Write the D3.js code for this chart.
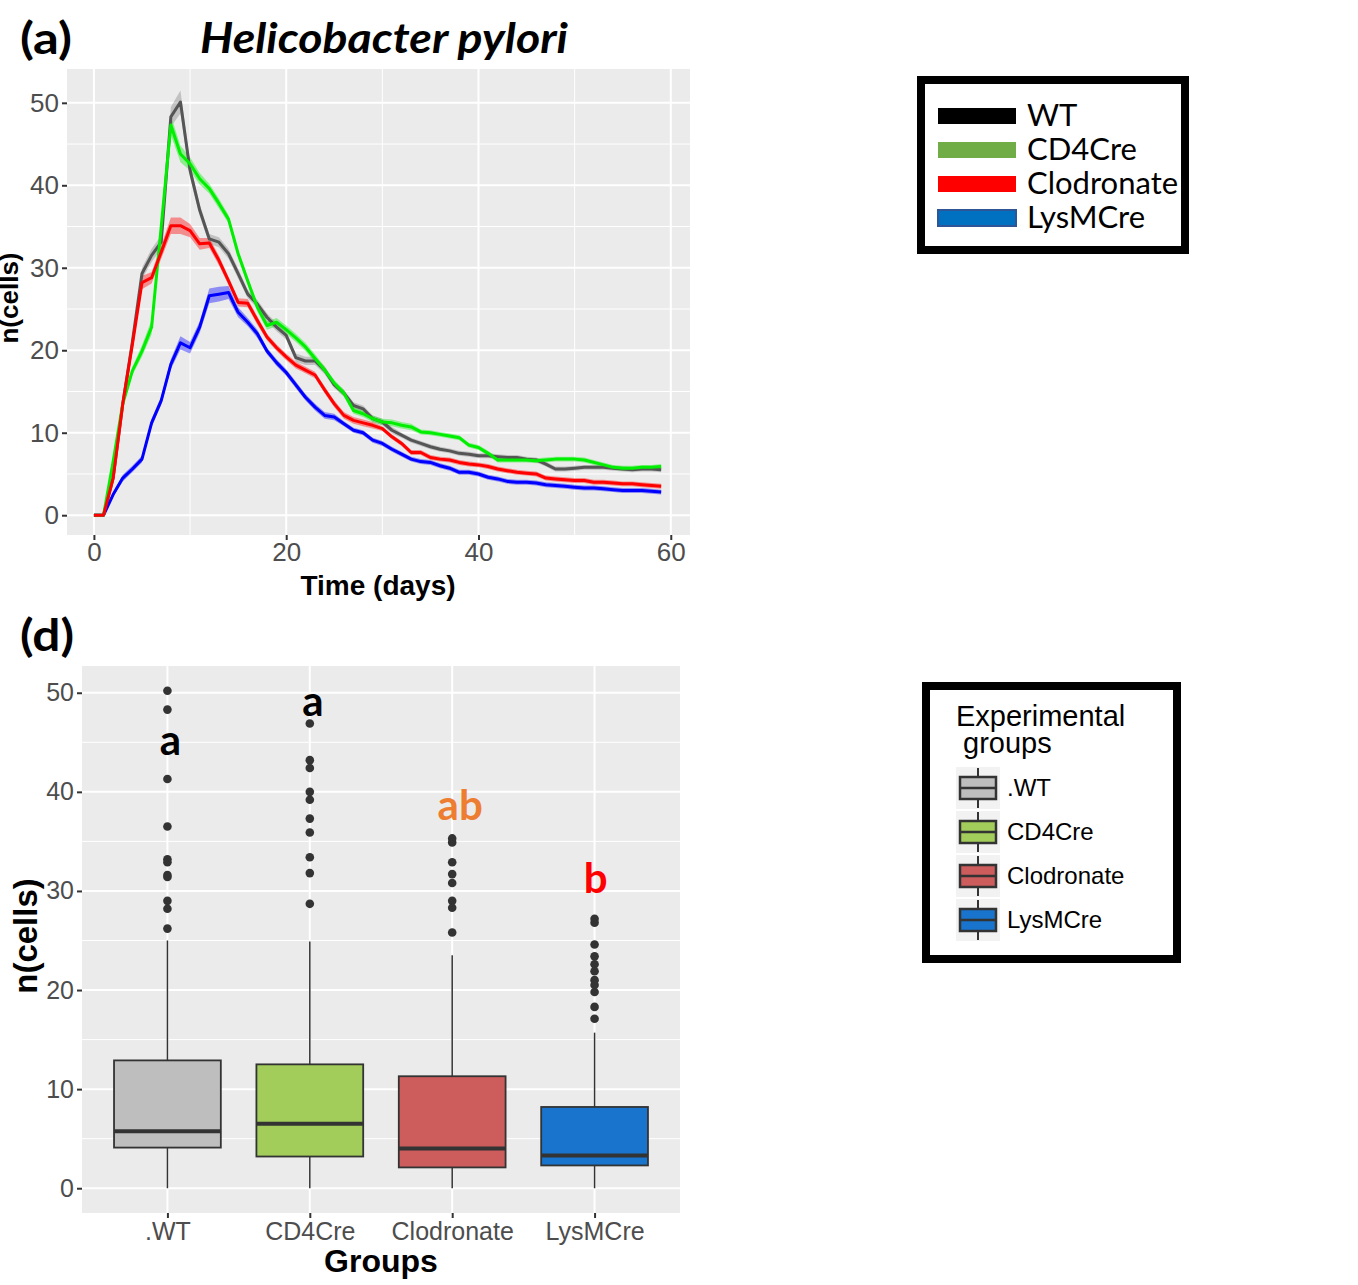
<!DOCTYPE html>
<html>
<head>
<meta charset="utf-8">
<script src="https://cdn.jsdelivr.net/npm/d3@7"></script>
<style>
  body { margin: 0; background: #fff; }
  svg { display: block; }
</style>
</head>
<body>
<div id="chart"></div>
<script>
var W = 1358, H = 1285;

// ---------- panel (a) data: mean n(cells) per day ----------
var days = [0,1,2,3,4,5,6,7,8,9,10,11,12,13,14,15,16,17,18,19,
  20,21,22,23,24,25,26,27,28,29,30,31,32,33,34,35,36,37,38,39,
  40,41,42,43,44,45,46,47,48,49,50,51,52,53,54,55,56,57,58,59];

var wtCells = [0,0,4.5,13.5,21,29.3,31.5,33.1,48.3,50.1,
  41.8,37,33.5,33.1,31.7,29.3,26.8,25.6,24,22.8,
  21.8,19.1,18.7,18.7,17.6,15.8,14.8,13.3,12.9,11.7,
  11.3,10.3,9.7,9.1,8.7,8.3,8.0,7.8,7.5,7.4,
  7.2,7.2,7.1,7.0,7.0,6.8,6.7,6.2,5.6,5.6,
  5.7,5.8,5.8,5.8,5.7,5.6,5.5,5.6,5.6,5.5];
var cd4Cells = [0,0,6.5,13.5,17.5,19.9,22.8,35,47.3,43.8,
  42.6,40.8,39.6,37.8,35.9,31.7,28.4,25.2,23,23.4,
  22.5,21.5,20.4,19,17.6,16,14.8,12.7,12.3,11.7,
  11.3,11.2,10.9,10.7,10.1,10,9.8,9.6,9.4,8.5,
  8.2,7.5,6.7,6.7,6.7,6.7,6.6,6.7,6.8,6.8,
  6.8,6.7,6.4,6.1,5.8,5.7,5.7,5.8,5.8,5.9];
var clodCells = [0,0,4.5,13.5,20.7,28.2,28.8,31.9,35.1,35.1,
  34.5,32.9,33,30.9,28.4,25.8,25.7,23.6,21.6,20.3,
  19.2,18.2,17.6,17,15.2,13.5,12.1,11.5,11.2,10.9,
  10.5,9.5,8.7,7.6,7.6,7.0,6.8,6.7,6.4,6.2,
  6.1,5.9,5.6,5.4,5.2,5.1,5.0,4.5,4.4,4.3,
  4.2,4.2,4.0,4.0,3.9,3.8,3.8,3.7,3.6,3.5];
var lysmCells = [0,0,2.5,4.5,5.6,6.8,11.2,13.9,18.3,20.9,
  20.3,22.8,26.6,26.8,27,24.6,23.4,22,19.9,18.5,
  17.3,15.8,14.3,13.1,12.1,11.9,11.1,10.3,10,9.1,
  8.7,8.0,7.4,6.8,6.5,6.4,6.0,5.7,5.2,5.2,
  5.0,4.6,4.4,4.1,4.0,4.0,3.9,3.7,3.6,3.5,
  3.4,3.3,3.3,3.2,3.1,3.0,3.0,3.0,2.9,2.8];

// half-width of the shaded band around each mean
var wtSe = [0,0,0.3,0.4,0.5,0.7,0.8,0.8,1.2,1.4,
  0.9,0.7,0.6,0.6,0.6,0.6,0.5,0.5,0.5,0.5,
  0.5,0.5,0.5,0.5,0.5,0.4,0.4,0.4,0.4,0.4,
  0.4,0.4,0.3,0.3,0.3,0.3,0.3,0.3,0.3,0.3,
  0.3,0.3,0.3,0.3,0.3,0.3,0.3,0.3,0.3,0.3,
  0.3,0.3,0.3,0.3,0.3,0.3,0.3,0.3,0.3,0.3];
var cd4Se = [0,0,0.3,0.4,0.5,0.7,0.9,0.8,1.2,1.0,
  0.8,0.7,0.6,0.6,0.5,0.5,0.5,0.5,0.5,0.5,
  0.5,0.5,0.5,0.5,0.4,0.4,0.4,0.4,0.4,0.4,
  0.4,0.4,0.4,0.4,0.3,0.3,0.3,0.3,0.3,0.3,
  0.3,0.3,0.3,0.3,0.3,0.3,0.3,0.3,0.3,0.3,
  0.3,0.3,0.3,0.3,0.3,0.3,0.3,0.3,0.3,0.3];
var clodSe = [0,0,0.3,0.4,0.6,0.8,0.7,0.8,1.0,1.0,
  0.8,0.7,0.6,0.6,0.5,0.5,0.5,0.5,0.4,0.4,
  0.4,0.4,0.4,0.4,0.4,0.4,0.4,0.4,0.4,0.4,
  0.3,0.3,0.3,0.3,0.3,0.3,0.3,0.3,0.3,0.3,
  0.3,0.3,0.3,0.3,0.3,0.3,0.3,0.3,0.3,0.3,
  0.3,0.3,0.3,0.3,0.3,0.3,0.3,0.3,0.3,0.3];
var lysmSe = [0,0,0.3,0.4,0.4,0.4,0.5,0.5,0.6,0.8,
  0.7,0.7,0.9,0.9,0.8,0.6,0.5,0.5,0.4,0.4,
  0.4,0.4,0.4,0.4,0.4,0.4,0.3,0.3,0.3,0.3,
  0.3,0.3,0.3,0.3,0.3,0.3,0.3,0.3,0.3,0.3,
  0.3,0.3,0.3,0.3,0.3,0.3,0.3,0.3,0.3,0.3,
  0.3,0.3,0.3,0.3,0.3,0.3,0.3,0.3,0.3,0.3];

var xTicksA = [0, 20, 40, 60];
var xMinorA = [10, 30, 50];
var yTicksA = [0, 10, 20, 30, 40, 50];
var yMinorA = [5, 15, 25, 35, 45];

var legendNames = ["WT", "CD4Cre", "Clodronate", "LysMCre"];

// ---------- panel (d) data: boxplot summaries ----------
var groups = [".WT", "CD4Cre", "Clodronate", "LysMCre"];
var lowerWhisker = [0, 0, 0, 0];
var q1 = [4.1, 3.2, 2.1, 2.3];
var medians = [5.75, 6.5, 4.0, 3.3];
var q3 = [12.9, 12.5, 11.3, 8.2];
var upperWhisker = [25.0, 24.9, 23.5, 15.7];
var outliers = [
  [50.2, 48.3, 41.3, 36.5, 33.2, 32.9, 31.6, 31.4, 29.0, 28.2, 26.2],
  [46.9, 43.2, 42.4, 40.0, 39.2, 37.3, 35.9, 33.4, 31.8, 28.7],
  [35.3, 34.9, 32.9, 31.7, 30.8, 29.0, 28.3, 25.8],
  [27.2, 26.8, 24.6, 23.4, 22.6, 21.9, 21.0, 20.5, 19.8, 18.3, 17.1]
];
var sigLetters = ["a", "a", "ab", "b"];
var sigLevel = [43.7, 47.7, 37.2, 29.8];

var yTicksB = [0, 10, 20, 30, 40, 50];
var yMinorB = [5, 15, 25, 35, 45];

// ---------- styles ----------
var ggFont = "'Liberation Sans', Arial, sans-serif";
var officeFont = "Lato, 'Open Sans', sans-serif";
var lineColors = { WT: "#555555", CD4Cre: "#00ee00", Clodronate: "#ff0000", LysMCre: "#0000ff" };
var keyColors = { WT: "#000000", CD4Cre: "#70ad47", Clodronate: "#ff0000", LysMCre: "#0070c0" };
var boxColors = ["#bebebe", "#a2cd5a", "#cd5c5c", "#1874cd"];
var letterColors = ["#000000", "#000000", "#ed7d31", "#ff0000"];
var letterShift = [3, 3, 8, 1];

var svg = d3.select("#chart").append("svg")
  .attr("width", W)
  .attr("height", H);

// ================= panel (a) =================
var xA = d3.scaleLinear().domain([-2.8, 62]).range([67, 690]);
var yA = d3.scaleLinear().domain([-2.4, 54.1]).range([535, 69]);

var pA = svg.append("g");
pA.append("rect")
  .attr("x", 67).attr("y", 69)
  .attr("width", 623).attr("height", 466)
  .attr("fill", "#ebebeb");

// grid
pA.selectAll(".minx").data(xMinorA).enter().append("line")
  .attr("x1", d => xA(d)).attr("x2", d => xA(d))
  .attr("y1", 69).attr("y2", 535)
  .attr("stroke", "#fff").attr("stroke-width", 1);
pA.selectAll(".miny").data(yMinorA).enter().append("line")
  .attr("x1", 67).attr("x2", 690)
  .attr("y1", d => yA(d)).attr("y2", d => yA(d))
  .attr("stroke", "#fff").attr("stroke-width", 1);
pA.selectAll(".majx").data(xTicksA).enter().append("line")
  .attr("x1", d => xA(d)).attr("x2", d => xA(d))
  .attr("y1", 69).attr("y2", 535)
  .attr("stroke", "#fff").attr("stroke-width", 2);
pA.selectAll(".majy").data(yTicksA).enter().append("line")
  .attr("x1", 67).attr("x2", 690)
  .attr("y1", d => yA(d)).attr("y2", d => yA(d))
  .attr("stroke", "#fff").attr("stroke-width", 2);

svg.append("clipPath").attr("id", "clipA")
  .append("rect").attr("x", 67).attr("y", 69).attr("width", 623).attr("height", 466);

var seriesA = [
  { name: "WT", v: wtCells, se: wtSe },
  { name: "LysMCre", v: lysmCells, se: lysmSe },
  { name: "CD4Cre", v: cd4Cells, se: cd4Se },
  { name: "Clodronate", v: clodCells, se: clodSe }
];

var band = d3.area()
  .x((d, i) => xA(days[i]))
  .y0(d => yA(d[0] - d[1]))
  .y1(d => yA(d[0] + d[1]));
var line = d3.line()
  .x((d, i) => xA(days[i]))
  .y(d => yA(d));

var gLines = pA.append("g").attr("clip-path", "url(#clipA)");
gLines.selectAll(".band").data(seriesA).enter().append("path")
  .attr("d", s => band(s.v.map((v, i) => [v, s.se[i]])))
  .attr("fill", s => lineColors[s.name])
  .attr("fill-opacity", s => s.name === "WT" ? 0.28 : 0.4);
gLines.selectAll(".line").data(seriesA).enter().append("path")
  .attr("d", s => line(s.v))
  .attr("fill", "none")
  .attr("stroke", s => lineColors[s.name])
  .attr("stroke-width", 3)
  .attr("stroke-linejoin", "round");

// axes
var axA_y = pA.append("g").attr("transform", "translate(67,0)")
  .call(d3.axisLeft(yA).tickValues(yTicksA).tickSize(5).tickPadding(3));
var axA_x = pA.append("g").attr("transform", "translate(0,535)")
  .call(d3.axisBottom(xA).tickValues(xTicksA).tickSize(5).tickPadding(3));
[axA_y, axA_x].forEach(function (ax) {
  ax.select(".domain").remove();
  ax.selectAll("line").attr("stroke", "#333").attr("stroke-width", 2);
  ax.selectAll("text").attr("fill", "#4d4d4d")
    .style("font-family", ggFont).style("font-size", "26px");
});

svg.append("text").text("Time (days)")
  .attr("x", 378).attr("y", 595)
  .attr("text-anchor", "middle")
  .style("font-family", ggFont).style("font-size", "28px").style("font-weight", "bold");
svg.append("text").text("n(cells)")
  .attr("transform", "translate(18,298) rotate(-90)")
  .attr("text-anchor", "middle")
  .style("font-family", ggFont).style("font-size", "26px").style("font-weight", "bold");

svg.append("text").text("(a)")
  .attr("x", 20).attr("y", 54)
  .attr("textLength", 52).attr("lengthAdjust", "spacingAndGlyphs")
  .style("font-family", officeFont).style("font-size", "43px").style("font-weight", "bold");
svg.append("text").text("Helicobacter pylori")
  .attr("x", 200).attr("y", 53)
  .attr("textLength", 368).attr("lengthAdjust", "spacingAndGlyphs")
  .style("font-family", officeFont).style("font-size", "42px")
  .style("font-weight", "bold").style("font-style", "italic");

// legend for (a)
var legA = svg.append("g");
legA.append("rect")
  .attr("x", 921).attr("y", 80).attr("width", 264).attr("height", 170)
  .attr("fill", "#fff").attr("stroke", "#000").attr("stroke-width", 8);
var legAy = d3.scalePoint().domain(legendNames).range([116, 218]);
legA.selectAll(".key").data(legendNames).enter().append("rect")
  .attr("x", 938).attr("width", 78)
  .attr("y", d => legAy(d) - 8).attr("height", 16)
  .attr("fill", d => keyColors[d])
  .attr("stroke", d => d === "LysMCre" ? "#2f5597" : "none")
  .attr("stroke-width", 2);
legA.selectAll(".lab").data(legendNames).enter().append("text")
  .text(d => d)
  .attr("x", 1027).attr("y", d => legAy(d) + 10)
  .style("font-family", officeFont).style("font-size", "31px");

// ================= panel (d) =================
var xB = d3.scalePoint().domain(groups).range([82, 680]).padding(0.6);
var yB = d3.scaleLinear().domain([-2.5, 52.7]).range([1213, 666]);
var boxW = xB.step() * 0.75;

var pB = svg.append("g");
pB.append("rect")
  .attr("x", 82).attr("y", 666)
  .attr("width", 598).attr("height", 547)
  .attr("fill", "#ebebeb");
pB.selectAll(".miny").data(yMinorB).enter().append("line")
  .attr("x1", 82).attr("x2", 680)
  .attr("y1", d => yB(d)).attr("y2", d => yB(d))
  .attr("stroke", "#fff").attr("stroke-width", 1);
pB.selectAll(".majy").data(yTicksB).enter().append("line")
  .attr("x1", 82).attr("x2", 680)
  .attr("y1", d => yB(d)).attr("y2", d => yB(d))
  .attr("stroke", "#fff").attr("stroke-width", 2);
pB.selectAll(".majx").data(groups).enter().append("line")
  .attr("x1", d => xB(d)).attr("x2", d => xB(d))
  .attr("y1", 666).attr("y2", 1213)
  .attr("stroke", "#fff").attr("stroke-width", 2);

var boxes = pB.selectAll(".box").data(groups).enter().append("g");
boxes.append("line")
  .attr("x1", d => xB(d)).attr("x2", d => xB(d))
  .attr("y1", (d, i) => yB(upperWhisker[i])).attr("y2", (d, i) => yB(q3[i]))
  .attr("stroke", "#333").attr("stroke-width", 1.5);
boxes.append("line")
  .attr("x1", d => xB(d)).attr("x2", d => xB(d))
  .attr("y1", (d, i) => yB(q1[i])).attr("y2", (d, i) => yB(lowerWhisker[i]))
  .attr("stroke", "#333").attr("stroke-width", 1.5);
boxes.append("rect")
  .attr("x", d => xB(d) - boxW / 2).attr("width", boxW)
  .attr("y", (d, i) => yB(q3[i]))
  .attr("height", (d, i) => yB(q1[i]) - yB(q3[i]))
  .attr("fill", (d, i) => boxColors[i])
  .attr("stroke", "#333").attr("stroke-width", 1.8);
boxes.append("line")
  .attr("x1", d => xB(d) - boxW / 2).attr("x2", d => xB(d) + boxW / 2)
  .attr("y1", (d, i) => yB(medians[i])).attr("y2", (d, i) => yB(medians[i]))
  .attr("stroke", "#333").attr("stroke-width", 4);

var pts = [];
groups.forEach(function (g, i) {
  outliers[i].forEach(function (v) { pts.push({ g: g, v: v }); });
});
pB.selectAll(".out").data(pts).enter().append("circle")
  .attr("cx", d => xB(d.g)).attr("cy", d => yB(d.v))
  .attr("r", 4.3).attr("fill", "#333");

pB.selectAll(".sig").data(groups).enter().append("text")
  .text((d, i) => sigLetters[i])
  .attr("x", (d, i) => xB(d) + letterShift[i]).attr("y", (d, i) => yB(sigLevel[i]))
  .attr("text-anchor", "middle")
  .attr("fill", (d, i) => letterColors[i])
  .style("font-family", officeFont).style("font-size", "42px").style("font-weight", "bold");

var axB_y = pB.append("g").attr("transform", "translate(82,0)")
  .call(d3.axisLeft(yB).tickValues(yTicksB).tickSize(5).tickPadding(3));
var axB_x = pB.append("g").attr("transform", "translate(0,1213)")
  .call(d3.axisBottom(xB).tickSize(5).tickPadding(4));
[axB_y, axB_x].forEach(function (ax) {
  ax.select(".domain").remove();
  ax.selectAll("line").attr("stroke", "#333").attr("stroke-width", 2);
  ax.selectAll("text").attr("fill", "#4d4d4d")
    .style("font-family", ggFont).style("font-size", "25px");
});

svg.append("text").text("Groups")
  .attr("x", 381).attr("y", 1272)
  .attr("text-anchor", "middle")
  .style("font-family", ggFont).style("font-size", "32px").style("font-weight", "bold");
svg.append("text").text("n(cells)")
  .attr("transform", "translate(37,936) rotate(-90)")
  .attr("text-anchor", "middle")
  .style("font-family", ggFont).style("font-size", "33px").style("font-weight", "bold");
svg.append("text").text("(d)")
  .attr("x", 20).attr("y", 651)
  .attr("textLength", 54).attr("lengthAdjust", "spacingAndGlyphs")
  .style("font-family", officeFont).style("font-size", "43px").style("font-weight", "bold");

// legend for (d)
var legB = svg.append("g");
legB.append("rect")
  .attr("x", 926).attr("y", 686).attr("width", 251).attr("height", 273)
  .attr("fill", "#fff").attr("stroke", "#000").attr("stroke-width", 8);
legB.append("text").text("Experimental")
  .attr("x", 956).attr("y", 726)
  .style("font-family", ggFont).style("font-size", "29px");
legB.append("text").text("groups")
  .attr("x", 963).attr("y", 753)
  .style("font-family", ggFont).style("font-size", "29px");
var legBy = d3.scalePoint().domain(groups).range([788, 920]);
var keys = legB.selectAll(".k").data(groups).enter().append("g")
  .attr("transform", d => "translate(978," + legBy(d) + ")");
keys.append("rect")
  .attr("x", -22).attr("y", -21).attr("width", 44).attr("height", 42)
  .attr("fill", "#f2f2f2");
keys.append("line")
  .attr("x1", 0).attr("x2", 0).attr("y1", -20).attr("y2", 20)
  .attr("stroke", "#333").attr("stroke-width", 2);
keys.append("rect")
  .attr("x", -18).attr("y", -11).attr("width", 36).attr("height", 22)
  .attr("fill", (d, i) => boxColors[i])
  .attr("stroke", "#333").attr("stroke-width", 2.5);
keys.append("line")
  .attr("x1", -18).attr("x2", 18).attr("y1", 0).attr("y2", 0)
  .attr("stroke", "#333").attr("stroke-width", 2.5);
legB.selectAll(".lab").data(groups).enter().append("text")
  .text(d => d)
  .attr("x", 1007).attr("y", d => legBy(d) + 8)
  .style("font-family", ggFont).style("font-size", "24px");
</script>
</body>
</html>
